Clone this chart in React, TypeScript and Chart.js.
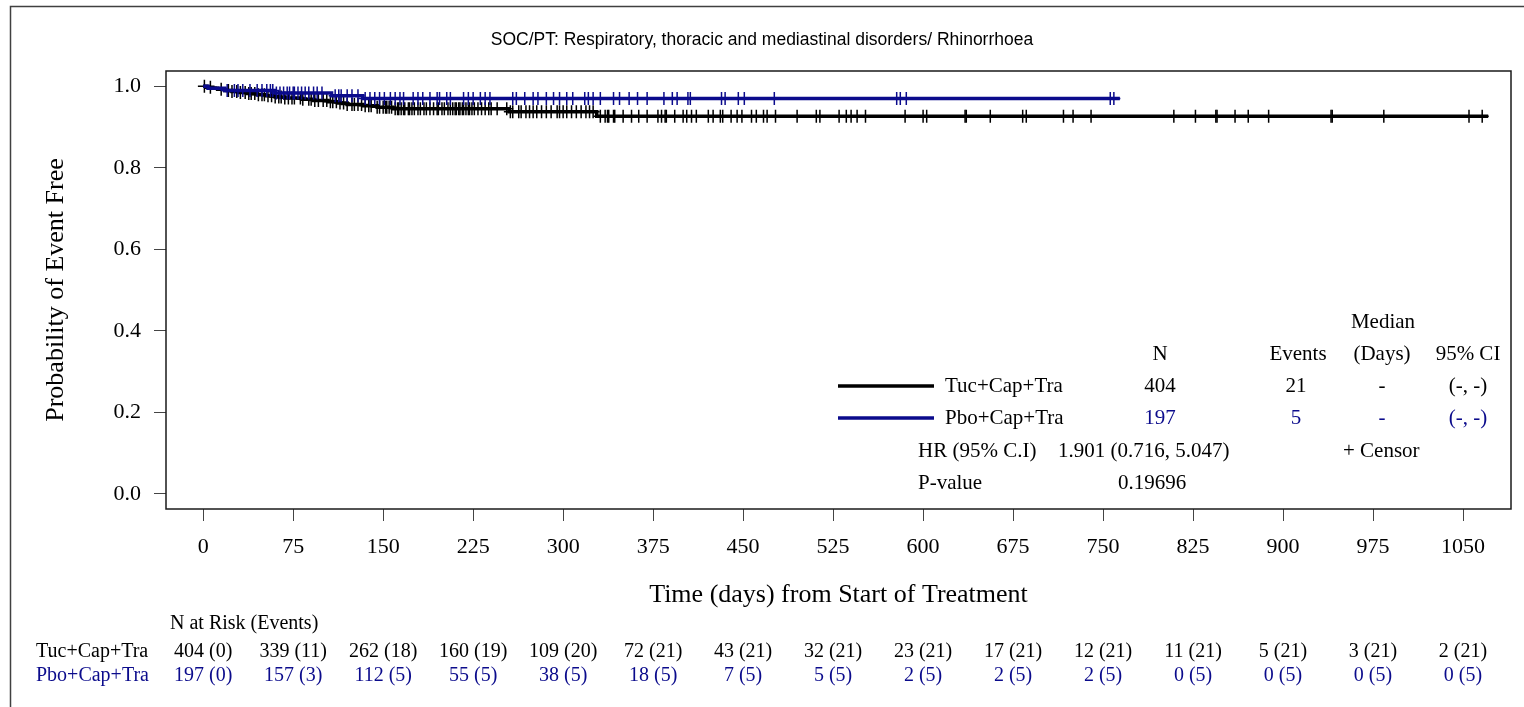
import React, { useEffect, useRef } from "react";
import { Chart, registerables } from "chart.js";

Chart.register(...registerables);

const SERIF = '"Liberation Serif", "Times New Roman", serif';
const SANS = '"Liberation Sans", Arial, sans-serif';
const BLUE = "#0b0b8c";

const chartTitle = "SOC/PT: Respiratory, thoracic and mediastinal disorders/ Rhinorrhoea";
const xAxisTitle = "Time (days) from Start of Treatment";
const yAxisTitle = "Probability of Event Free";

const xTicks = [0, 75, 150, 225, 300, 375, 450, 525, 600, 675, 750, 825, 900, 975, 1050];
const yTicks = [0, 0.2, 0.4, 0.6, 0.8, 1.0];

const groupNames = ["Tuc+Cap+Tra", "Pbo+Cap+Tra"];
const groupN = ["404", "197"];
const groupEvents = ["21", "5"];
const groupMedian = ["-", "-"];
const groupCI = ["(-, -)", "(-, -)"];
const hrLabel = "HR (95% C.I)";
const hrText = "1.901 (0.716, 5.047)";
const pLabel = "P-value";
const pValue = "0.19696";

const atRiskTuc = ["404 (0)", "339 (11)", "262 (18)", "160 (19)", "109 (20)", "72 (21)", "43 (21)", "32 (21)", "23 (21)", "17 (21)", "12 (21)", "11 (21)", "5 (21)", "3 (21)", "2 (21)"];
const atRiskPbo = ["197 (0)", "157 (3)", "112 (5)", "55 (5)", "38 (5)", "18 (5)", "7 (5)", "5 (5)", "2 (5)", "2 (5)", "2 (5)", "0 (5)", "0 (5)", "0 (5)", "0 (5)"];

// Kaplan-Meier step points (time in days, survival after the event)
const tucTimes = [0, 3, 8, 12, 18, 24, 30, 37, 45, 52, 60, 68, 82, 92, 104, 112, 120, 133, 145, 158, 255, 328, 1071];
const tucSurv = [1, 0.9975, 0.995, 0.9925, 0.9899, 0.9873, 0.9847, 0.982, 0.9793, 0.9766, 0.9738, 0.971, 0.9681, 0.9651, 0.962, 0.9588, 0.9555, 0.9521, 0.9485, 0.9447, 0.9377, 0.9266, 0.9266];
const pboTimes = [0, 4, 18, 60, 107, 133, 764];
const pboSurv = [1, 0.9949, 0.9896, 0.9836, 0.9765, 0.97, 0.97];

// censored observation times (days)
const tucCensor = [
  1, 6, 15, 21, 24, 28, 31, 35, 38, 40, 43, 46, 49, 51, 54, 57, 60, 63, 65, 68, 71, 74, 76, 81, 83, 88, 90, 93, 96, 100,
  103, 106, 108, 111, 114, 117, 120, 124, 126, 129, 132, 135, 138, 140, 145, 147, 150, 152, 153, 155, 157, 160, 162, 163,
  165, 167, 168, 171, 172, 174, 176, 179, 181, 184, 186, 189, 192, 195, 196, 199, 201, 204, 206, 208, 210, 211, 213, 214,
  216, 217, 219, 221, 222, 224, 226, 229, 232, 235, 238, 240, 245, 253, 256, 258, 263, 265, 269, 272, 275, 278, 282, 286,
  290, 295, 297, 300, 303, 307, 311, 315, 319, 322, 325, 331, 335, 337, 338, 342, 343, 350, 357, 363, 370, 379, 382, 385,
  386, 393, 400, 403, 407, 411, 421, 425, 431, 433, 440, 445, 449, 457, 461, 467, 470, 477, 495, 511, 514, 530, 536, 540,
  545, 552, 585, 600, 603, 635, 636, 656, 683, 686, 717, 725, 740, 809, 827, 844, 845, 860, 871, 888, 940, 941, 984, 1055, 1066,
];
const pboCensor = [
  20, 26, 29, 33, 39, 45, 49, 53, 56, 58, 61, 64, 67, 70, 72, 75, 76, 79, 82, 85, 88, 92, 95, 99, 110, 113, 115, 120, 124,
  129, 135, 139, 143, 147, 151, 156, 160, 164, 167, 175, 179, 183, 189, 195, 197, 203, 206, 217, 221, 225, 231, 235, 239,
  258, 261, 268, 275, 279, 286, 292, 297, 303, 308, 318, 321, 325, 331, 342, 347, 355, 362, 370, 384, 391, 395, 404, 406,
  432, 435, 446, 451, 476, 578, 581, 586, 756, 759,
];

function survAt(times: number[], surv: number[], t: number): number {
  let v = surv[0];
  for (let i = 0; i < times.length; i++) {
    if (times[i] <= t) v = surv[i];
  }
  return v;
}

const overlayPlugin = {
  id: "kmOverlay",
  afterDraw(chart: any) {
    const ctx = chart.ctx as CanvasRenderingContext2D;
    const { left, top, right, bottom } = chart.chartArea;
    const xs = chart.scales.x;
    ctx.save();
    // outer frame
    ctx.strokeStyle = "#404040";
    ctx.lineWidth = 1.5;
    ctx.beginPath();
    ctx.moveTo(10.5, 707);
    ctx.lineTo(10.5, 6.5);
    ctx.lineTo(1524, 6.5);
    ctx.stroke();
    // plot frame
    ctx.strokeStyle = "#1a1a1a";
    ctx.lineWidth = 1.5;
    ctx.strokeRect(left, top, right - left, bottom - top);

    // title
    ctx.fillStyle = "#000";
    ctx.font = `17.5px ${SANS}`;
    ctx.textAlign = "center";
    ctx.textBaseline = "middle";
    ctx.fillText(chartTitle, 762, 40);

    const txt = (s: string, x: number, y: number, align: CanvasTextAlign, color: string) => {
      ctx.fillStyle = color;
      ctx.textAlign = align;
      ctx.fillText(s, x, y);
    };

    // legend / statistics block
    ctx.font = `21px ${SERIF}`;
    txt("Median", 1383, 322, "center", "#000");
    txt("N", 1160, 354, "center", "#000");
    txt("Events", 1298, 354, "center", "#000");
    txt("(Days)", 1382, 354, "center", "#000");
    txt("95% CI", 1468, 354, "center", "#000");
    const rowY = [386, 418];
    const colors = ["#000", BLUE];
    for (let i = 0; i < 2; i++) {
      ctx.strokeStyle = colors[i];
      ctx.lineWidth = 3.5;
      ctx.beginPath();
      ctx.moveTo(838, rowY[i]);
      ctx.lineTo(934, rowY[i]);
      ctx.stroke();
      txt(groupNames[i], 945, rowY[i], "left", "#000");
      txt(groupN[i], 1160, rowY[i], "center", colors[i]);
      txt(groupEvents[i], 1296, rowY[i], "center", colors[i]);
      txt(groupMedian[i], 1382, rowY[i], "center", colors[i]);
      txt(groupCI[i], 1468, rowY[i], "center", colors[i]);
    }
    txt(hrLabel, 918, 451, "left", "#000");
    txt(hrText, 1058, 451, "left", "#000");
    txt("+ Censor", 1343, 451, "left", "#000");
    txt(pLabel, 918, 483, "left", "#000");
    txt(pValue, 1118, 483, "left", "#000");

    // number at risk table
    ctx.font = `20px ${SERIF}`;
    txt("N at Risk (Events)", 170, 624, "left", "#000");
    txt(groupNames[0], 36, 652, "left", "#000");
    txt(groupNames[1], 36, 676, "left", BLUE);
    for (let i = 0; i < xTicks.length; i++) {
      const px = xs.getPixelForValue(xTicks[i]);
      txt(atRiskTuc[i], px, 652, "center", "#000");
      txt(atRiskPbo[i], px, 676, "center", BLUE);
    }
    ctx.restore();
  },
};

export default function App() {
  const ref = useRef<HTMLCanvasElement | null>(null);

  useEffect(() => {
    if (!ref.current) return;
    const tucLine = tucTimes.map((t, i) => ({ x: t, y: tucSurv[i] }));
    const pboLine = pboTimes.map((t, i) => ({ x: t, y: pboSurv[i] }));
    const tucC = tucCensor.map((t) => ({ x: t, y: survAt(tucTimes, tucSurv, t) }));
    const pboC = pboCensor.map((t) => ({ x: t, y: survAt(pboTimes, pboSurv, t) }));

    const chart = new Chart(ref.current, {
      type: "line",
      data: {
        datasets: [
          {
            label: "Pbo censor",
            data: pboC,
            showLine: false,
            pointStyle: "cross",
            pointRadius: 6.5,
            pointBorderWidth: 1.5,
            pointBorderColor: BLUE,
            pointBackgroundColor: BLUE,
            order: 0,
          },
          {
            label: groupNames[1],
            data: pboLine,
            stepped: "before",
            borderColor: BLUE,
            borderWidth: 3.5,
            pointRadius: 0,
            fill: false,
            order: 1,
          },
          {
            label: "Tuc censor",
            data: tucC,
            showLine: false,
            pointStyle: "cross",
            pointRadius: 6.5,
            pointBorderWidth: 1.5,
            pointBorderColor: "#000",
            pointBackgroundColor: "#000",
            order: 2,
          },
          {
            label: groupNames[0],
            data: tucLine,
            stepped: "before",
            borderColor: "#000",
            borderWidth: 3.5,
            pointRadius: 0,
            fill: false,
            order: 3,
          },
        ] as any,
      },
      options: {
        responsive: false,
        animation: false,
        devicePixelRatio: 1,
        events: [],
        layout: { padding: { left: 0, top: 71, right: 13, bottom: 0 } },
        plugins: {
          legend: { display: false },
          title: { display: false },
          tooltip: { enabled: false },
        },
        scales: {
          x: {
            type: "linear",
            min: -31,
            max: 1090,
            afterBuildTicks: (s: any) => {
              s.ticks = xTicks.map((v) => ({ value: v }));
            },
            afterFit: (s: any) => {
              s.height = 198;
            },
            ticks: {
              autoSkip: false,
              maxRotation: 0,
              padding: 13,
              color: "#000",
              font: { family: SERIF, size: 22 },
              callback: (v: any) => String(v),
            },
            grid: { drawOnChartArea: false, drawTicks: true, tickLength: 12, color: "#444", lineWidth: 1 },
            border: { display: false },
            title: {
              display: true,
              text: xAxisTitle,
              color: "#000",
              font: { family: SERIF, size: 26 },
              padding: { top: 0, bottom: 96.4 },
            },
          },
          y: {
            type: "linear",
            min: -0.037,
            max: 1.0375,
            afterBuildTicks: (s: any) => {
              s.ticks = yTicks.map((v) => ({ value: v }));
            },
            afterFit: (s: any) => {
              s.width = 166;
            },
            ticks: {
              padding: 13,
              color: "#000",
              font: { family: SERIF, size: 22 },
              callback: (v: any) => Number(v).toFixed(1),
            },
            grid: { drawOnChartArea: false, drawTicks: true, tickLength: 12, color: "#444", lineWidth: 1 },
            border: { display: false },
            title: {
              display: true,
              text: yAxisTitle,
              color: "#000",
              font: { family: SERIF, size: 26 },
              padding: { top: 40.4, bottom: 0 },
            },
          },
        },
      } as any,
      plugins: [overlayPlugin],
    });
    return () => chart.destroy();
  }, []);

  return (
    <div style={{ position: "absolute", left: 0, top: 0, width: 1524, height: 707, background: "#fff" }}>
      <canvas ref={ref} width={1524} height={707} style={{ width: 1524, height: 707, display: "block" }} />
    </div>
  );
}
